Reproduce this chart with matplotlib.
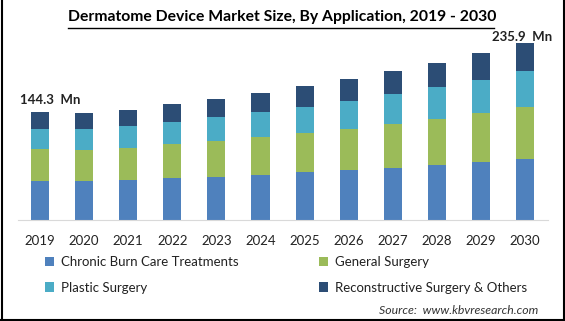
import matplotlib.pyplot as plt
import numpy as np

# Market size (USD Mn) by application
years = ["2019", "2020", "2021", "2022", "2023", "2024",
         "2025", "2026", "2027", "2028", "2029", "2030"]
chronic_burn = [52.1, 52.1, 53.4, 56.1, 57.4, 60.1, 64.1, 66.8, 69.5, 73.5, 77.5, 81.5]
general_surgery = [42.3, 41.4, 42.8, 45.4, 48.1, 50.8, 52.1, 54.8, 58.8, 61.5, 65.5, 69.5]
plastic_surgery = [27.1, 28.1, 29.4, 29.4, 32.1, 33.4, 34.7, 37.4, 40.1, 42.8, 44.1, 48.1]
reconstructive = [22.8, 21.4, 21.4, 24.0, 24.0, 25.4, 28.1, 29.4, 30.7, 32.1, 36.1, 36.8]

series = [
    ("Chronic Burn Care Treatments", chronic_burn, "#4F81BD"),
    ("General Surgery", general_surgery, "#9BBB59"),
    ("Plastic Surgery", plastic_surgery, "#4BACC6"),
    ("Reconstructive Surgery & Others", reconstructive, "#2C4D75"),
]

plt.rcParams['font.family'] = ['Lato', 'DejaVu Sans']

fig = plt.figure(figsize=(5.65, 3.21), dpi=100)
ax = fig.add_axes([18 / 565, 101 / 321, 530 / 565, 190 / 321])

x = np.arange(len(years))
bottom = np.zeros(len(years))
handles = {}
for name, vals, color in series:
    bars = ax.bar(x, vals, width=0.41, bottom=bottom, color=color, label=name)
    handles[name] = bars
    bottom += np.array(vals)

totals = bottom
ax.annotate(f"{totals[0]:.1f}  Mn", (x[0], totals[0]), xytext=(10, 12),
            textcoords='offset pixels', ha='center', va='center',
            fontsize=9.5, fontweight='bold', color='#222222')
ax.annotate(f"{totals[-1]:.1f}  Mn", (x[-1], totals[-1]), xytext=(-3, 6),
            textcoords='offset pixels', ha='center', va='center',
            fontsize=9.5, fontweight='bold', color='#222222')

ax.set_xlim(-0.5, 11.52)
ax.set_ylim(0, 253.8)
ax.set_xticks(x)
ax.set_xticklabels(years, fontsize=9.5, color='#222222')
ax.tick_params(axis='x', length=0, pad=11)
ax.set_yticks([])
for side in ['left', 'right', 'top']:
    ax.spines[side].set_visible(False)
ax.spines['bottom'].set_color('#D9D9D9')

fig.text(0.5, 1 - 17 / 321, "Dermatome Device Market Size, By Application, 2019 - 2030",
         ha='center', va='center', fontsize=11.3, fontweight='bold')
# underline for the title
fig.add_artist(plt.Line2D([68 / 565, 494 / 565], [1 - 27.5 / 321, 1 - 27.5 / 321],
                          color='black', linewidth=1))

order = ["Chronic Burn Care Treatments", "Plastic Surgery",
         "General Surgery", "Reconstructive Surgery & Others"]
fig.legend([handles[n] for n in order], order, ncol=2, loc='center left',
           bbox_to_anchor=(33 / 565, 1 - 275 / 321), frameon=False,
           fontsize=9.5, handlelength=0.7, handleheight=0.7, handletextpad=0.5,
           columnspacing=6.1, labelspacing=1.0, labelcolor='#222222')

fig.text(538 / 565, 1 - 311 / 321, "Source:  www.kbvresearch.com",
         ha='right', va='center', fontsize=8.8, style='italic', color='#333333')

# frame around the figure (left, right, bottom)
for xs, ys in [([1.5 / 565, 1.5 / 565], [0, 1]),
               ([563.5 / 565, 563.5 / 565], [0, 1]),
               ([0, 1], [1.5 / 321, 1.5 / 321])]:
    fig.add_artist(plt.Line2D(xs, ys, color='black', linewidth=1.5))

fig.savefig("out.png", dpi=100)
